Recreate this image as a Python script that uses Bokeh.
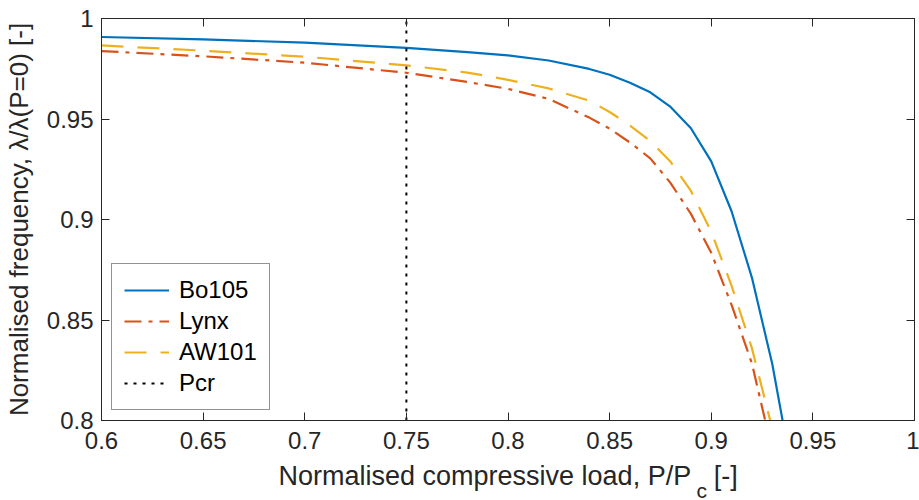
from bokeh.plotting import figure
from bokeh.models import Range1d, FixedTicker, LinearAxis, Legend, LegendItem, Title
from bokeh.embed import file_html
from bokeh.resources import INLINE

# ---- data ----
load = [0.60, 0.65, 0.70, 0.75, 0.78, 0.80, 0.82, 0.84, 0.85, 0.86,
        0.87, 0.88, 0.89, 0.90, 0.91, 0.92, 0.93, 0.94]
bo105 = [0.9908, 0.9896, 0.9880, 0.9854, 0.9833, 0.9817, 0.9791, 0.9749, 0.9720, 0.9680,
         0.9633, 0.9560, 0.9454, 0.9289, 0.9041, 0.8711, 0.8282, 0.7730]
lynx = [0.9838, 0.9812, 0.9780, 0.9730, 0.9684, 0.9650, 0.9600, 0.9507, 0.9452, 0.9383,
        0.9304, 0.9181, 0.9028, 0.8834, 0.8575, 0.8284, 0.7850, 0.7300]
aw101 = [0.9866, 0.9840, 0.9810, 0.9767, 0.9731, 0.9695, 0.9652, 0.9591, 0.9535, 0.9468,
         0.9390, 0.9287, 0.9142, 0.8940, 0.8670, 0.8360, 0.7960, 0.7450]
p_cr = 0.75
series_names = ["Bo105", "Lynx", "AW101", "Pcr"]

x_limits = [0.6, 1.0]
y_limits = [0.8, 1.0]
x_ticks = [0.6, 0.65, 0.7, 0.75, 0.8, 0.85, 0.9, 0.95, 1.0]
x_tick_labels = ["0.6", "0.65", "0.7", "0.75", "0.8", "0.85", "0.9", "0.95", "1"]
y_ticks = [0.8, 0.85, 0.9, 0.95, 1.0]
y_tick_labels = ["0.8", "0.85", "0.9", "0.95", "1"]

FONT = "Liberation Sans"
AX = "#262626"
NB = "\u00a0"

p = figure(width=919, height=500, output_backend="svg", toolbar_location=None,
           x_range=Range1d(*x_limits), y_range=Range1d(*y_limits),
           min_border_left=98, min_border_right=5, min_border_top=18, min_border_bottom=80,
           x_axis_location="below", y_axis_location="left")
p.grid.visible = False
p.outline_line_color = AX
p.outline_line_width = 1
p.background_fill_color = "white"
p.border_fill_color = "white"

xa = p.xaxis[0]
xa.ticker = FixedTicker(ticks=x_ticks)
xa.major_label_overrides = {t: l for t, l in zip(x_ticks, x_tick_labels)}
ya = p.yaxis[0]
ya.ticker = FixedTicker(ticks=y_ticks)
ya.major_label_overrides = {t: l for t, l in zip(y_ticks, y_tick_labels)}
for ax in (xa, ya):
    ax.major_tick_in = 8
    ax.major_tick_out = 0
    ax.minor_tick_line_color = None
    ax.axis_line_color = AX
    ax.major_tick_line_color = AX
    ax.major_label_text_font = FONT
    ax.major_label_text_font_size = "24px"
    ax.major_label_text_color = AX
xa.major_label_standoff = 11
# invisible spacer label to push the x-axis title down
xa.axis_label = NB
xa.axis_label_text_font_size = "1px"
xa.axis_label_standoff = 11
ya.major_label_standoff = 8
ya.axis_label = "Normalised frequency, \u03bb/\u03bb(P=0) [-]"
ya.axis_label_text_font = FONT
ya.axis_label_text_font_size = "26px"
ya.axis_label_text_font_style = "normal"
ya.axis_label_text_color = AX
ya.axis_label_standoff = 10

for loc, ticks in (("above", x_ticks), ("right", y_ticks)):
    ax2 = LinearAxis(ticker=FixedTicker(ticks=ticks),
                     major_label_overrides={t: "" for t in ticks},
                     major_label_text_font_size="0px", major_label_standoff=0,
                     major_tick_in=8, major_tick_out=0, minor_tick_line_color=None,
                     axis_line_color=AX, major_tick_line_color=AX)
    p.add_layout(ax2, loc)

# ---- lines ----
r_bo = p.line(load, bo105, line_color="#0072BD", line_width=2.2)
r_ly = p.line(load, lynx, line_color="#D95319", line_width=2.2, line_dash="17 7 4 7")
r_aw = p.line(load, aw101, line_color="#EDB120", line_width=2.2, line_dash="22 14")
r_pc = p.line([p_cr, p_cr], y_limits, line_color="black", line_width=2, line_dash="3 6")

legend = Legend(items=[LegendItem(label=n, renderers=[r]) for n, r in
                       zip(series_names, [r_bo, r_ly, r_aw, r_pc])],
                location=(10, 10), orientation="vertical",
                label_text_font=FONT, label_text_font_size="24px", label_text_color="black",
                glyph_width=45, glyph_height=28, label_height=28, label_standoff=10,
                spacing=3, padding=12, margin=0,
                border_line_color=AX, border_line_width=1,
                background_fill_color="white", background_fill_alpha=1.0)
p.add_layout(legend, "center")

# ---- x axis title with subscript (as titles in the lower panel) ----
t_main = Title(text="Normalised compressive load, P/P" + NB * 3 + "[-]", align="left", offset=177,
               text_font=FONT, text_font_size="27px", text_font_style="normal",
               text_color=AX, standoff=-15)
t_sub = Title(text="c", align="left", offset=595,
              text_font=FONT, text_font_size="21px", text_font_style="normal",
              text_color=AX, standoff=-14)
p.add_layout(t_main, "below")
p.add_layout(t_sub, "below")

open("out.html", "w").write(file_html(p, INLINE))
